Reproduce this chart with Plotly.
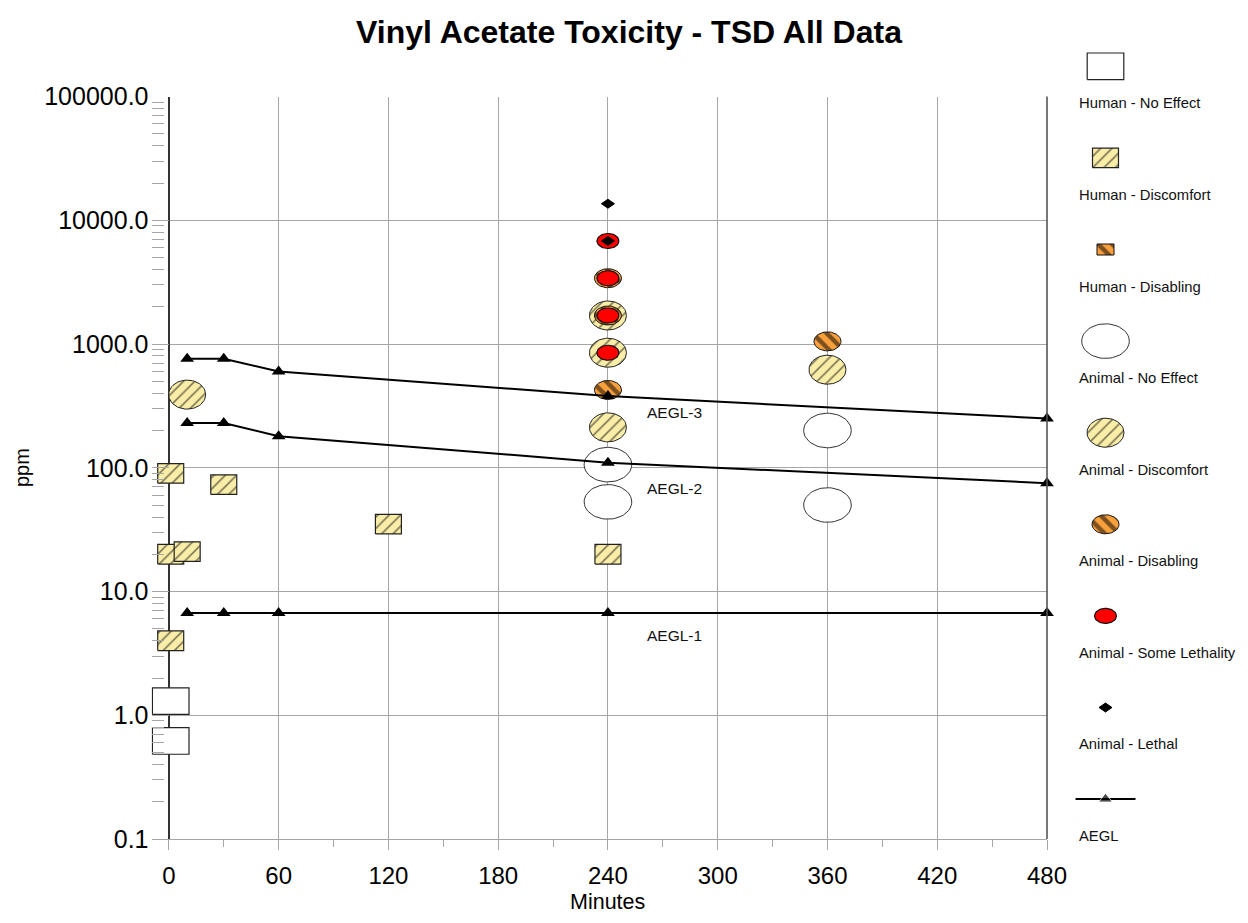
import numpy as np
import plotly.graph_objects as go

# ------------------------------------------------------------------ data
human_no_effect_min = [1, 1]
human_no_effect_ppm = [1.3, 0.62]

human_discomfort_min = [1, 1, 10, 1, 30, 120, 240]
human_discomfort_ppm = [90, 20, 21, 4, 73, 35, 20]

human_disabling_min = []
human_disabling_ppm = []

animal_no_effect_min = [240, 240, 360, 360]
animal_no_effect_ppm = [106, 53, 200, 50]

animal_discomfort_min = [10, 240, 240, 240, 360]
animal_discomfort_ppm = [390, 212, 850, 1700, 620]

animal_disabling_min = [240, 240, 240, 360]
animal_disabling_ppm = [425, 1700, 3400, 1050]

animal_some_lethality_min = [240, 240, 240, 240]
animal_some_lethality_ppm = [850, 1700, 3400, 6800]

animal_lethal_min = [240, 240]
animal_lethal_ppm = [6800, 13600]

aegl_min = [10, 30, 60, 240, 480]
aegl1_ppm = [6.7, 6.7, 6.7, 6.7, 6.7]
aegl2_ppm = [230, 230, 180, 110, 75]
aegl3_ppm = [760, 760, 600, 380, 250]
aegl_names = ["AEGL-1", "AEGL-2", "AEGL-3"]

x_tick_vals = [0, 60, 120, 180, 240, 300, 360, 420, 480]
x_tick_text = ["0", "60", "120", "180", "240", "300", "360", "420", "480"]
y_tick_vals = [0.1, 1, 10, 100, 1000, 10000, 100000]
y_tick_text = ["0.1", "1.0", "10.0", "100.0", "1000.0", "10000.0", "100000.0"]

legend_labels = ["Human - No Effect", "Human - Discomfort", "Human - Disabling",
                 "Animal - No Effect", "Animal - Discomfort", "Animal - Disabling",
                 "Animal - Some Lethality", "Animal - Lethal", "AEGL"]

# ------------------------------------------------------------------ geometry
PAGE_W, PAGE_H = 1248, 923
OFF = 8                                   # default body margin of the html page
W, H = PAGE_W - 2 * OFF, PAGE_H - 2 * OFF


def px(xp):
    return (xp - OFF) / W


def py(yp):
    return 1 - (yp - OFF) / H


PLOT_L, PLOT_R, PLOT_T, PLOT_B = 151.5, 1047.0, 96.5, 839.0   # page pixels
X_RANGE = [-9.5, 480]
Y_RANGE = [-1, 5]
PX_PER_MIN = (PLOT_R - PLOT_L) / (X_RANGE[1] - X_RANGE[0])
PX_PER_DEC = (PLOT_B - PLOT_T) / (Y_RANGE[1] - Y_RANGE[0])

FONT = "Arial, Liberation Sans, sans-serif"
YELLOW = "#F9EDA8"
ORANGE = "#F8A03C"
RED = "#FF0000"
GRID = "#A6A6A6"

HATCH_Y = dict(shape="/", fgcolor="#000", bgcolor=YELLOW, size=8, solidity=0.2)
HATCH_O = dict(shape="\\", fgcolor="#000", bgcolor=ORANGE, size=10, solidity=0.45)

STYLES = {
    "Human - No Effect": dict(kind="rect", rx=18.3, ry=13.3, fill="white", pattern=None, line="#222", lw=1.2),
    "Human - Discomfort": dict(kind="rect", rx=13, ry=9.8, fill=YELLOW, pattern=HATCH_Y, line="#222", lw=1.2),
    "Human - Disabling": dict(kind="rect", rx=8.5, ry=5.5, fill=ORANGE, pattern=HATCH_O, line="#111", lw=1),
    "Animal - No Effect": dict(kind="ellipse", rx=23.8, ry=17.3, fill="white", pattern=None, line="#333", lw=1),
    "Animal - Discomfort": dict(kind="ellipse", rx=18.5, ry=14.5, fill=YELLOW, pattern=HATCH_Y, line="#222", lw=1),
    "Animal - Disabling": dict(kind="ellipse", rx=13.5, ry=9.5, fill=ORANGE, pattern=HATCH_O, line="#111", lw=1),
    "Animal - Some Lethality": dict(kind="ellipse", rx=11, ry=7.5, fill=RED, pattern=None, line="#111", lw=1.2),
    "Animal - Lethal": dict(kind="diamond", rx=6.5, ry=4.5, fill="black", pattern=None, line="black", lw=1),
}


def offsets(kind, rx, ry):
    """Outline offsets in pixels (dy positive = up)."""
    if kind == "ellipse":
        t = np.linspace(0, 2 * np.pi, 60)
        return rx * np.cos(t), ry * np.sin(t)
    if kind == "rect":
        return np.array([-rx, rx, rx, -rx, -rx]), np.array([-ry, -ry, ry, ry, -ry])
    return np.array([-rx, 0, rx, 0, -rx]), np.array([0, ry, 0, -ry, 0])


def add_mark(fig, st, xs, ys, axes):
    fig.add_trace(go.Scatter(
        x=xs, y=ys, mode="lines", fill="toself", fillcolor=st["fill"],
        fillpattern=st["pattern"], line=dict(color=st["line"], width=st["lw"]),
        showlegend=False, hoverinfo="skip", xaxis=axes[0], yaxis=axes[1]))


fig = go.Figure()

series = [
    ("Human - No Effect", human_no_effect_min, human_no_effect_ppm),
    ("Human - Discomfort", human_discomfort_min, human_discomfort_ppm),
    ("Human - Disabling", human_disabling_min, human_disabling_ppm),
    ("Animal - No Effect", animal_no_effect_min, animal_no_effect_ppm),
    ("Animal - Discomfort", animal_discomfort_min, animal_discomfort_ppm),
    ("Animal - Disabling", animal_disabling_min, animal_disabling_ppm),
    ("Animal - Some Lethality", animal_some_lethality_min, animal_some_lethality_ppm),
    ("Animal - Lethal", animal_lethal_min, animal_lethal_ppm),
]

for name, mins, ppms in series:
    st = STYLES[name]
    dx, dy = offsets(st["kind"], st["rx"], st["ry"])
    for m, p in zip(mins, ppms):
        xs = m + dx / PX_PER_MIN
        ys = p * 10 ** (dy / PX_PER_DEC)
        add_mark(fig, st, xs, ys, ("x", "y"))

for nm, vals in zip(aegl_names, [aegl1_ppm, aegl2_ppm, aegl3_ppm]):
    fig.add_trace(go.Scatter(
        x=aegl_min, y=vals, mode="lines+markers", name=nm,
        line=dict(color="black", width=2),
        marker=dict(symbol="triangle-up", size=12, color="black"),
        cliponaxis=False, showlegend=False, hoverinfo="skip"))

# ------------------------------------------------------------------ custom legend (icon above label)
LEG_X_ICON = 1105.5
LEG_X_TEXT = 1077
LEG_Y0, LEG_DY, LEG_TEXT_GAP = 66.3, 91.6, 37
annotations = []
for i, lab in enumerate(legend_labels):
    cy = LEG_Y0 + i * LEG_DY
    if lab in STYLES:
        st = STYLES[lab]
        dx, dy = offsets(st["kind"], st["rx"], st["ry"])
        add_mark(fig, st, LEG_X_ICON + dx, cy - dy, ("x2", "y2"))
    else:
        fig.add_trace(go.Scatter(
            x=[LEG_X_ICON - 30, LEG_X_ICON, LEG_X_ICON + 30], y=[cy, cy, cy],
            mode="lines+markers", line=dict(color="black", width=2),
            marker=dict(symbol="triangle-up", size=[0, 12, 0], color="black"),
            showlegend=False, hoverinfo="skip", xaxis="x2", yaxis="y2", cliponaxis=False))
    annotations.append(dict(
        text=lab, xref="paper", yref="paper", x=px(LEG_X_TEXT), y=py(cy + LEG_TEXT_GAP),
        xanchor="left", yanchor="middle", showarrow=False,
        font=dict(family=FONT, size=14.8, color="#111")))

# AEGL line labels
AEGL_LABEL_MIN = 260
aegl_label_ppm = [4.45, 68.5, 282]
for nm, p in zip(aegl_names, aegl_label_ppm):
    annotations.append(dict(
        text=nm, xref="x", yref="y", x=AEGL_LABEL_MIN, y=np.log10(p),
        xanchor="left", yanchor="middle", showarrow=False,
        font=dict(family=FONT, size=15.5, color="#111")))

# axis titles
annotations.append(dict(text="Minutes", xref="paper", yref="paper", x=px(607), y=py(902),
                        xanchor="center", yanchor="middle", showarrow=False,
                        font=dict(family=FONT, size=21.5, color="black")))
annotations.append(dict(text="ppm", xref="paper", yref="paper", x=px(22), y=py(468),
                        xanchor="center", yanchor="middle", showarrow=False, textangle=-90,
                        font=dict(family=FONT, size=20, color="black")))

fig.update_layout(
    width=W, height=H, autosize=False,
    margin=dict(l=0, r=0, t=0, b=0, pad=0, autoexpand=False),
    paper_bgcolor="white", plot_bgcolor="white",
    showlegend=False,
    title=dict(text="Vinyl Acetate Toxicity - TSD All Data", x=px(629), y=py(32),
               xref="paper", yref="paper", xanchor="center", yanchor="middle", automargin=False,
               font=dict(family=FONT, size=32, color="black", weight="bold")),
    xaxis=dict(
        domain=[px(PLOT_L), px(PLOT_R)], range=X_RANGE, automargin=False,
        tickmode="array", tickvals=x_tick_vals, ticktext=x_tick_text,
        ticks="outside", ticklen=10, tickcolor=GRID, ticklabelstandoff=5,
        tickfont=dict(family=FONT, size=24, color="black"),
        showgrid=True, gridcolor=GRID, gridwidth=1,
        zeroline=True, zerolinecolor="#333", zerolinewidth=1.6,
        showline=True, linecolor=GRID, linewidth=1,
        minor=dict(tick0=0, dtick=30, ticks="outside", ticklen=7, tickcolor=GRID, showgrid=False),
        fixedrange=True,
    ),
    yaxis=dict(
        domain=[py(PLOT_B), py(PLOT_T)], type="log", range=Y_RANGE, automargin=False,
        tickmode="array", tickvals=y_tick_vals, ticktext=y_tick_text,
        ticks="inside", ticklen=17, tickcolor=GRID, ticklabelstandoff=2,
        tickfont=dict(family=FONT, size=25, color="black"),
        showgrid=True, gridcolor=GRID, gridwidth=1,
        zeroline=False, showline=False,
        minor=dict(dtick="D1", ticks="inside", ticklen=12, tickcolor=GRID, showgrid=False),
        fixedrange=True,
    ),
    xaxis2=dict(domain=[px(1060), 1], range=[1060, PAGE_W - OFF], visible=False, fixedrange=True,
                automargin=False, anchor="y2"),
    yaxis2=dict(domain=[0, 1], range=[PAGE_H - OFF, OFF], visible=False, fixedrange=True, anchor="x2",
                automargin=False),
    annotations=annotations,
    shapes=[dict(type="line", xref="x domain", yref="y domain", x0=1, x1=1, y0=0, y1=1,
                 line=dict(color="#555", width=1.6))],
)

fig.write_html("out.html", config={"responsive": False})
